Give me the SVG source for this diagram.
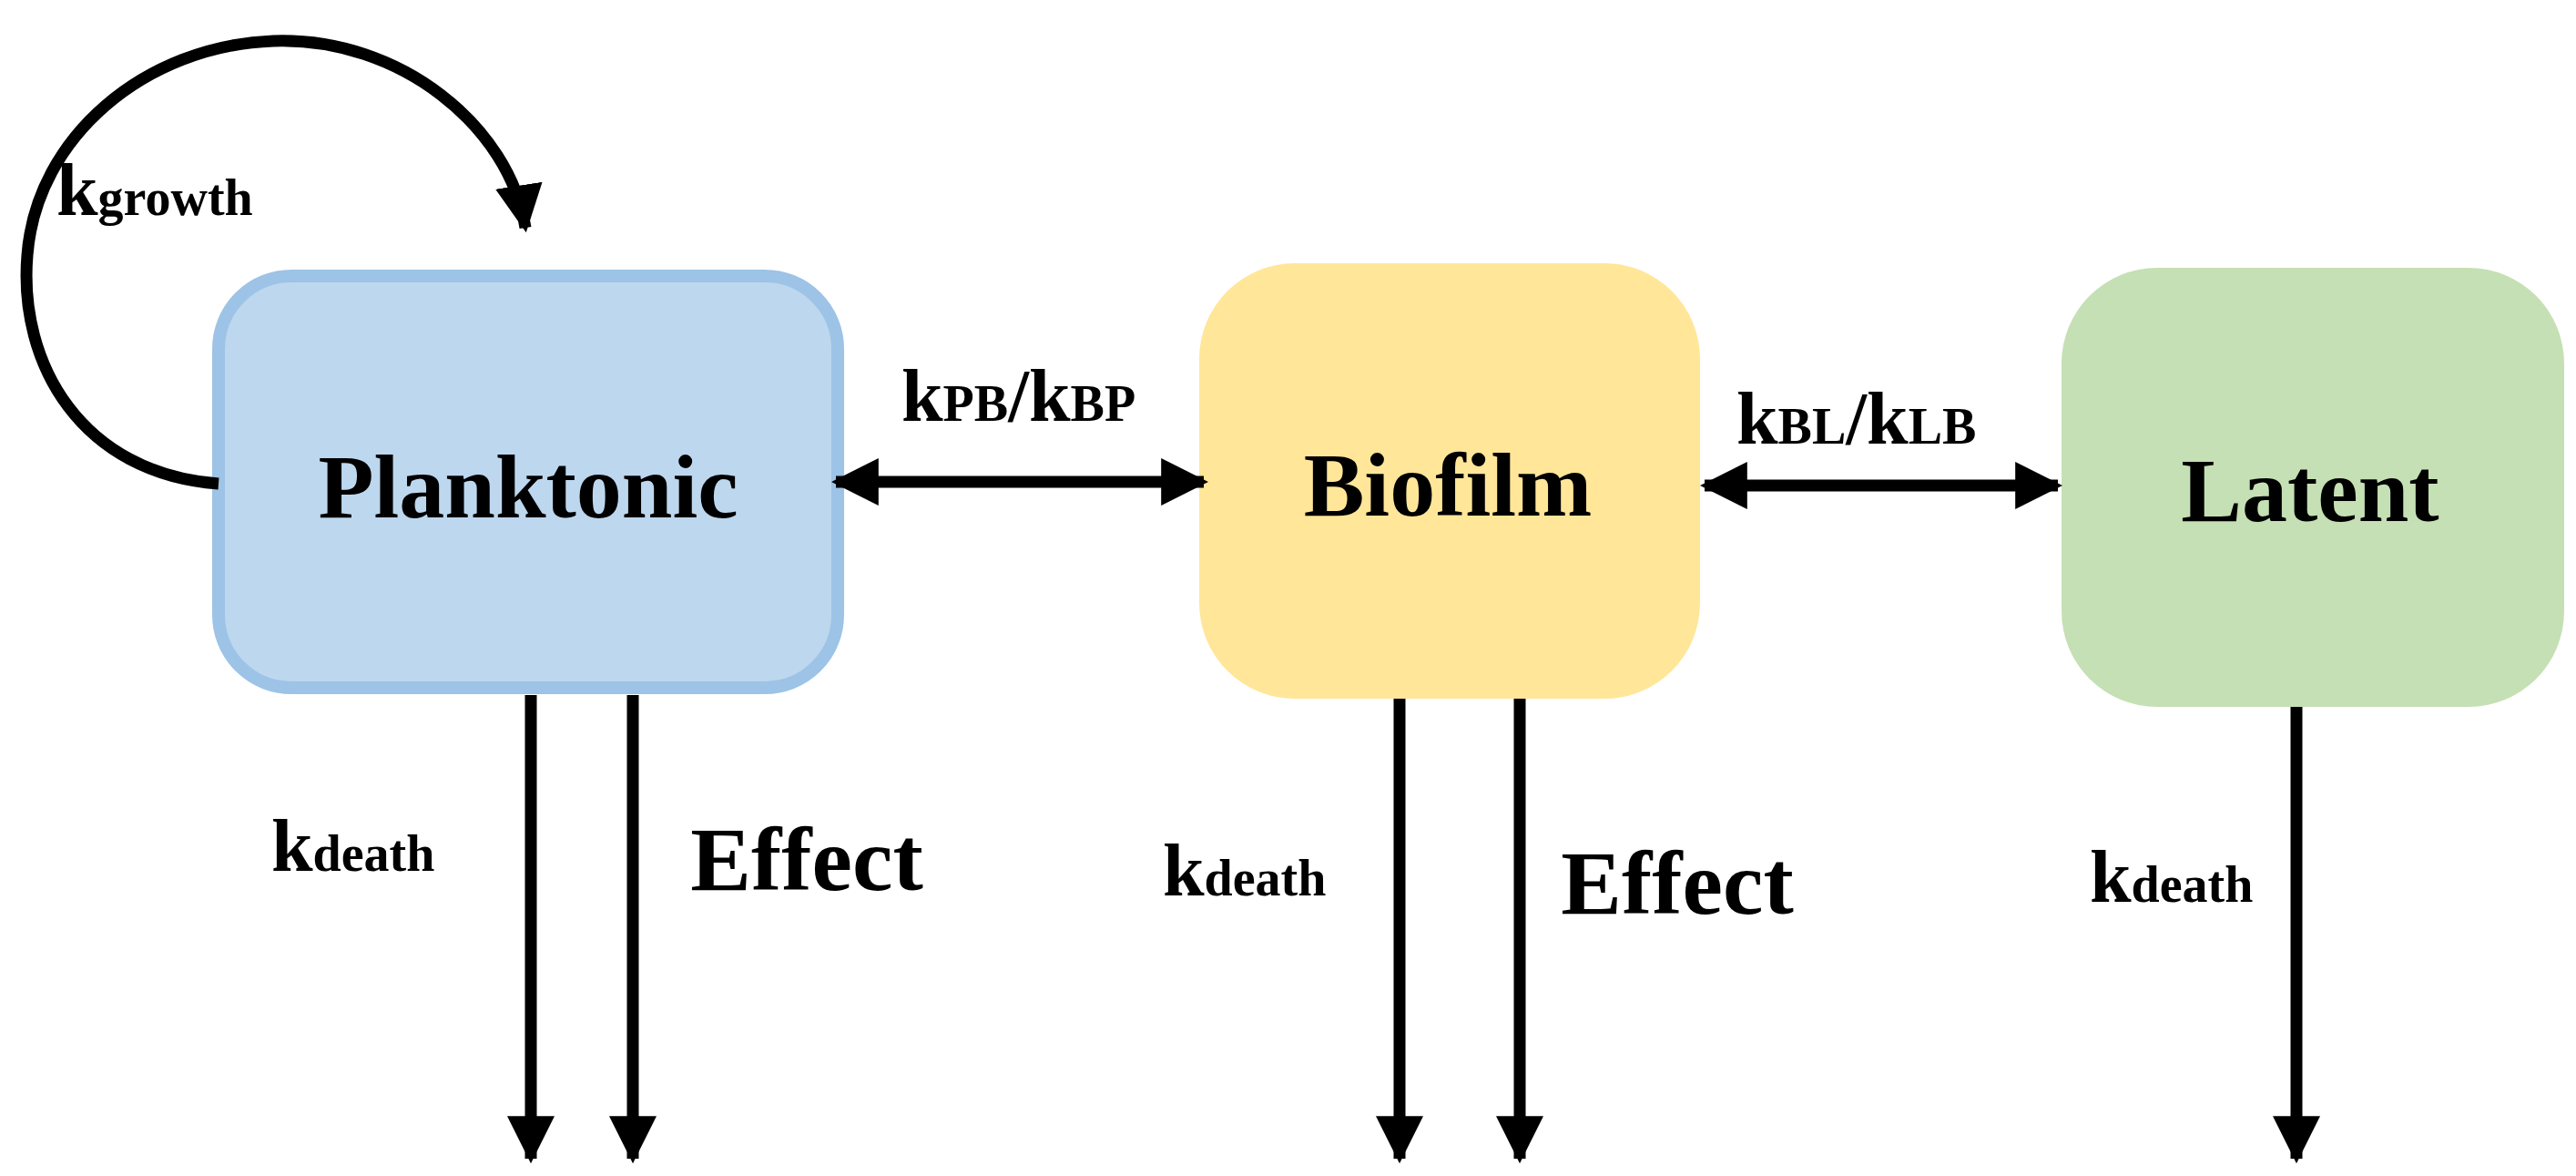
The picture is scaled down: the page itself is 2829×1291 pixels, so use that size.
<svg xmlns="http://www.w3.org/2000/svg" width="2829" height="1291" viewBox="0 0 2829 1291">
<style>
text{font-family:"Liberation Serif","Times New Roman",serif;font-weight:bold;fill:#000}
.n{font-size:100px;text-anchor:middle}
.k{font-size:82px}
.s{font-size:56px}
.c{fill:none;stroke:#000;stroke-width:13}
</style>
<defs>
<marker id="a" viewBox="0 0 10 10" refX="9" refY="5" markerWidth="4" markerHeight="4" orient="auto-start-reverse" markerUnits="strokeWidth"><path d="M0,0 L10,5 L0,10 Z" fill="#000"/></marker>
</defs>
<rect width="2829" height="1291" fill="#fff"/>
<g id="planktonic"><rect x="240" y="303" width="680" height="452" rx="80" fill="#BDD7EE" stroke="#9DC3E6" stroke-width="14"/><text class="n" x="580" y="568">Planktonic</text></g>
<g id="biofilm"><rect x="1317" y="289" width="550" height="478" rx="105" fill="#FFE699"/><text class="n" x="1590" y="566">Biofilm</text></g>
<g id="latent"><rect x="2264" y="294" width="552" height="482" rx="105" fill="#C5E0B4"/><text class="n" x="2537" y="572">Latent</text></g>
<g id="connectors">
<path class="c" d="M240 531 C90 520 20 400 30 280 C40 150 160 50 300 45 C440 40 560 140 577 250" marker-end="url(#a)"/>
<line class="c" x1="918" y1="529" x2="1322" y2="529" marker-start="url(#a)" marker-end="url(#a)"/>
<line class="c" x1="1872" y1="533" x2="2260" y2="533" marker-start="url(#a)" marker-end="url(#a)"/>
<line class="c" x1="583" y1="763" x2="583" y2="1272" marker-end="url(#a)"/>
<line class="c" x1="695" y1="763" x2="695" y2="1272" marker-end="url(#a)"/>
<line class="c" x1="1537" y1="767" x2="1537" y2="1272" marker-end="url(#a)"/>
<line class="c" x1="1669" y1="767" x2="1669" y2="1272" marker-end="url(#a)"/>
<line class="c" x1="2522" y1="776" x2="2522" y2="1272" marker-end="url(#a)"/>
</g>
<g id="labels">
<text x="62" y="236"><tspan class="k">k</tspan><tspan class="s">growth</tspan></text>
<text x="990" y="462"><tspan class="k">k</tspan><tspan class="s">PB</tspan><tspan class="k">/k</tspan><tspan class="s">BP</tspan></text>
<text x="1907" y="487"><tspan class="k">k</tspan><tspan class="s">BL</tspan><tspan class="k">/k</tspan><tspan class="s">LB</tspan></text>
<text x="298" y="956"><tspan class="k">k</tspan><tspan class="s">death</tspan></text>
<text x="1277" y="983"><tspan class="k">k</tspan><tspan class="s">death</tspan></text>
<text x="2295" y="990"><tspan class="k">k</tspan><tspan class="s">death</tspan></text>
<text class="n" x="886" y="977">Effect</text>
<text class="n" x="1842" y="1003">Effect</text>
</g>
</svg>
